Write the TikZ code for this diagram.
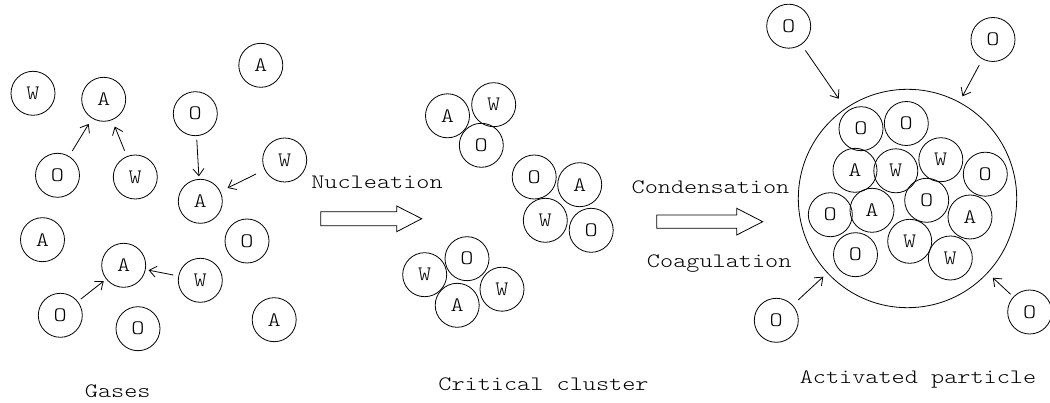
\documentclass[tikz,border=0pt]{standalone}
\usepackage{fontspec}
\newfontfamily\courfont{lmmonolt10-regular.otf}[FakeStretch=1.22]
\usetikzlibrary{arrows.meta}
\tikzset{
  mol/.style={draw, circle, minimum size=44pt, inner sep=0pt, line width=0.8pt, font=\courfont\fontsize{20.5}{22}\selectfont},
  big/.style={draw, circle, minimum size=218.4pt, inner sep=0pt, line width=0.8pt},
  lbl/.style={inner sep=0pt, anchor=base, font=\courfont\fontsize{20.5}{22}\selectfont},
  conn/.style={line width=0.8pt, -{Straight Barb[length=7pt,width=11pt,line width=0.8pt]}},
  hollow/.style={draw, line width=0.8pt, fill=white}
}
\begin{document}
\begin{tikzpicture}[x=1pt,y=-1pt]
\useasboundingbox (0,0) rectangle (1050,403);
% ---------- Gases ----------
\node[mol] (gW1) at (33,93.3) {W};
\node[mol] (gA1) at (103.7,99.3) {A};
\node[mol] (gO1) at (57.5,175.3) {O};
\node[mol] (gW2) at (135.3,177) {W};
\node[mol] (gA2) at (260.8,65.3) {A};
\node[mol] (gO2) at (195.3,113.7) {O};
\node[mol] (gW3) at (284.7,160) {W};
\node[mol] (gA3) at (200.3,201.3) {A};
\node[mol] (gA4) at (42.5,239.7) {A};
\node[mol] (gA5) at (123.7,265.3) {A};
\node[mol] (gO3) at (60.3,315.3) {O};
\node[mol] (gO4) at (138,328.7) {O};
\node[mol] (gW4) at (200.3,280.3) {W};
\node[mol] (gO5) at (247,241) {O};
\node[mol] (gA6) at (274.2,319.7) {A};
\draw[conn, shorten <=6pt, shorten >=6.5pt] (gO1) -- (gA1);
\draw[conn, shorten <=6pt, shorten >=7pt] (gW2) -- (gA1);
\draw[conn, shorten <=3.6pt, shorten >=2.6pt] (gO2) -- (gA3);
\draw[conn, shorten <=9.5pt, shorten >=8pt] (gW3) -- (gA3);
\draw[conn, shorten <=3.7pt, shorten >=3pt] (gO3) -- (gA5);
\draw[conn, shorten <=5pt, shorten >=3pt] (gW4) -- (gA5);
\node[lbl] (tGases) at (117.7,397) {Gases};
% ---------- Nucleation arrow ----------
\node[lbl] (tNuc) at (377,189) {Nucleation};
\draw[hollow] (320.7,211.7) -- (396.7,211.7) -- (396.7,206) -- (421.7,218.7)
  -- (396.7,231.7) -- (396.7,225.7) -- (320.7,225.7) -- cycle;
% ---------- Critical clusters ----------
\node[mol] (c1A) at (447.5,115.8) {A};
\node[mol] (c1W) at (493.7,104.7) {W};
\node[mol] (c1O) at (481.3,145.3) {O};
\node[mol] (c2O) at (534.2,177) {O};
\node[mol] (c2A) at (579.7,184.7) {A};
\node[mol] (c2W) at (545.3,220.3) {W};
\node[mol] (c2O2) at (591.2,230.3) {O};
\node[mol] (c3W) at (424.7,274.7) {W};
\node[mol] (c3O) at (467,258.7) {O};
\node[mol] (c3A) at (457.2,305.3) {A};
\node[mol] (c3W2) at (502,289.2) {W};
\node[lbl] (tCrit) at (543.5,390) {Critical cluster};
% ---------- Condensation / Coagulation arrow ----------
\node[lbl] (tCond) at (710.5,194) {Condensation};
\node[lbl] (tCoag) at (719.2,268) {Coagulation};
\draw[hollow] (656.7,215) -- (736.7,215) -- (736.7,208.3) -- (762.7,221.7)
  -- (736.7,235) -- (736.7,228.3) -- (656.7,228.3) -- cycle;
% ---------- Activated particle ----------
\node[big] (P) at (907.5,198.5) {};
\node[mol] (pO1) at (861,128.7) {O};
\node[mol] (pO2) at (906.3,123.5) {O};
\node[mol] (pA1) at (855,170.3) {A};
\node[mol] (pW1) at (895.8,170.8) {W};
\node[mol] (pW2) at (940.8,159.7) {W};
\node[mol] (pO3) at (985.3,174.2) {O};
\node[mol] (pO4) at (830.3,214.7) {O};
\node[mol] (pA2) at (872,210.3) {A};
\node[mol] (pO5) at (926.7,200.3) {O};
\node[mol] (pA3) at (970,217) {A};
\node[mol] (pO6) at (855.5,254.7) {O};
\node[mol] (pW3) at (909.7,241.3) {W};
\node[mol] (pW4) at (950.3,258) {W};
\node[mol] (xO1) at (788.7,26.2) {O};
\node[mol] (xO2) at (993,39.5) {O};
\node[mol] (xO3) at (776.3,320.3) {O};
\node[mol] (xO4) at (1029.7,312) {O};
\draw[conn, shorten <=7pt, shorten >=11.6pt] (xO1) -- (P);
\draw[conn, shorten <=6.5pt, shorten >=6.4pt] (xO2) -- (P);
\draw[conn, shorten <=7.5pt, shorten >=5.3pt] (xO3) -- (P);
\draw[conn, shorten <=3.6pt, shorten >=6.8pt] (xO4) -- (P);
\node[lbl] (tAct) at (918,384) {Activated particle};
\end{tikzpicture}
\end{document}
